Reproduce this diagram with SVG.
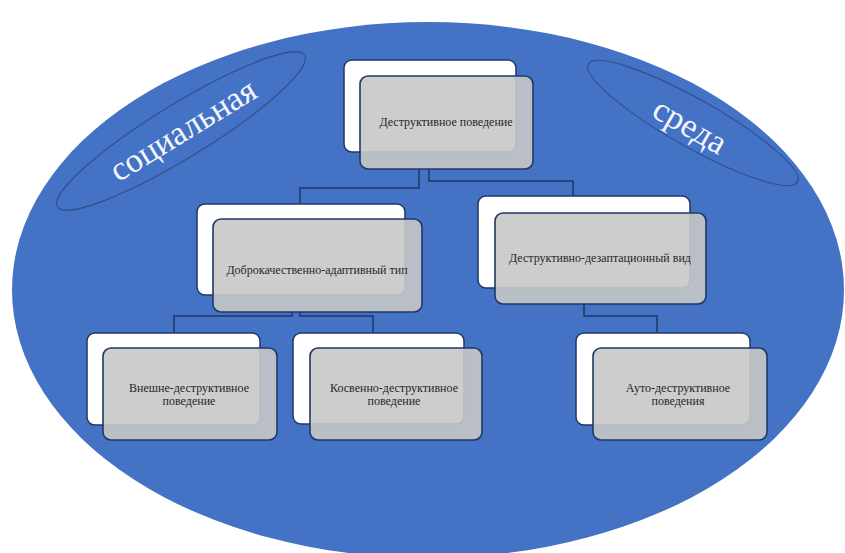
<svg xmlns="http://www.w3.org/2000/svg" width="845" height="553" viewBox="0 0 845 553">
<style>
.bg{fill:#4472c4}
.oval{fill:#4472c4;stroke:#2f528f;stroke-width:1.2}
.side{font-family:"Liberation Serif","DejaVu Serif",serif;font-size:34px;fill:#f4f6fb;text-anchor:middle}
.back{fill:#ffffff;stroke:#1f3864;stroke-width:1.5}
.front{fill:#c8c8c8;fill-opacity:0.9;stroke:#1f3864;stroke-width:1.6}
.lbl{font-family:"Liberation Serif","DejaVu Serif",serif;font-size:12px;fill:#262626;text-anchor:middle}
.conn{fill:none;stroke:#1f3864;stroke-width:1.5}
</style>
<rect width="845" height="553" fill="#ffffff"/>
<ellipse class="bg" cx="428" cy="290" rx="416" ry="268"/>
<g id="social">
<ellipse class="oval" cx="181" cy="131" rx="145" ry="27" transform="rotate(-31.5 181 131)"/>
<text class="side" x="183" y="141" transform="rotate(-31.5 183 130)">социальная</text>
</g>
<g id="sreda">
<ellipse class="oval" cx="693" cy="123" rx="120" ry="24" transform="rotate(29.4 693 123)"/>
<text class="side" x="690" y="137" transform="rotate(30 690 126)">среда</text>
</g>
<g id="connectors">
<path class="conn" d="M419 169 V188 H300 V203"/>
<path class="conn" d="M429 169 V181 H573 V196"/>
<path class="conn" d="M292 312 V316 H174 V332"/>
<path class="conn" d="M300 312 V316 H373 V332"/>
<path class="conn" d="M584 304 V316 H657 V332"/>
</g>
<g id="n-root">
<rect class="back" x="344" y="60" width="172" height="92" rx="8"/>
<rect class="front" x="360" y="76" width="173" height="93" rx="8"/>
<text class="lbl" x="446" y="126">Деструктивное поведение</text>
</g>
<g id="n-benign">
<rect class="back" x="197" y="204" width="208" height="91" rx="8"/>
<rect class="front" x="213" y="219" width="209" height="93" rx="8"/>
<text class="lbl" x="317" y="274">Доброкачественно-адаптивный тип</text>
</g>
<g id="n-destr">
<rect class="back" x="478" y="196" width="212" height="92" rx="8"/>
<rect class="front" x="495" y="213" width="211" height="91" rx="8"/>
<text class="lbl" x="600" y="262">Деструктивно-дезаптационный вид</text>
</g>
<g id="n-ext">
<rect class="back" x="87" y="333" width="173" height="92" rx="8"/>
<rect class="front" x="103" y="348" width="174" height="92" rx="8"/>
<text class="lbl" x="189" y="392">Внешне-деструктивное</text>
<text class="lbl" x="189" y="405">поведение</text>
</g>
<g id="n-ind">
<rect class="back" x="293" y="333" width="171" height="91" rx="8"/>
<rect class="front" x="310" y="348" width="172" height="92" rx="8"/>
<text class="lbl" x="394" y="392">Косвенно-деструктивное</text>
<text class="lbl" x="394" y="405">поведение</text>
</g>
<g id="n-auto">
<rect class="back" x="576" y="333" width="174" height="92" rx="8"/>
<rect class="front" x="593" y="348" width="174" height="92" rx="8"/>
<text class="lbl" x="678" y="392">Ауто-деструктивное</text>
<text class="lbl" x="678" y="405">поведения</text>
</g>
</svg>
